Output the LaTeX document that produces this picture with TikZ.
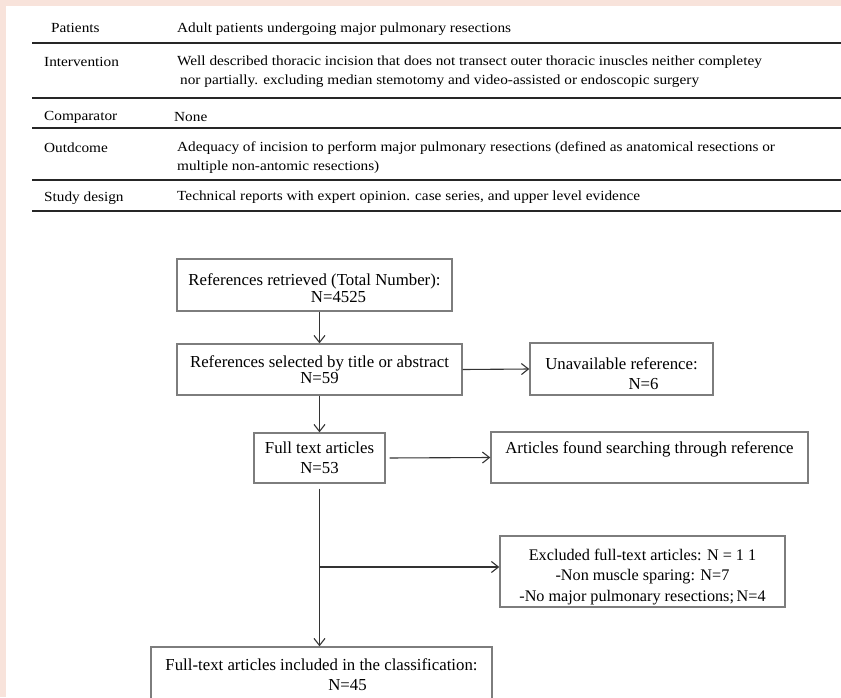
\documentclass[tikz,border=0pt]{standalone}
\usepackage{fontspec}
\setmainfont{Liberation Serif}
\newfontfamily\tabfont{Liberation Serif}[FakeStretch=1.1]
\usepackage{tikz}
\usetikzlibrary{positioning, arrows.meta}
\definecolor{pagepink}{RGB}{248,227,219}
\definecolor{boxline}{RGB}{125,125,125}

\begin{document}
\begin{tikzpicture}[x=1pt, y=-1pt,
    flowbox/.style={draw=boxline, line width=1.4pt, inner sep=0pt, align=center,
                    font=\fontsize{16.8}{19}\selectfont},
    tabcell/.style={anchor=west, inner sep=0pt, align=left,
                    font=\tabfont\fontsize{13.9}{19}\selectfont},
    tabrule/.style={line width=1.8pt, black!85},
    arr/.style={-{Straight Barb[length=7pt,width=11pt]}, line width=1.1pt, black!80}]
  \useasboundingbox (0,0) rectangle (841,697);
  \fill[pagepink] (0,0) rectangle (841,697);      % pink page
  \fill[white] (6,6) rectangle (841,697);         % white sheet

  % PICOS table
  \node[tabcell] (pat)  at (51,28)  {Patients};
  \node[tabcell] (patd) at (177,29) {Adult patients undergoing major pulmonary resections};
  \node[tabcell] (int)  at (44,62)  {Intervention};
  \node[tabcell] (intd) at (177,71.5) {Well described thoracic incision that does not transect outer thoracic inuscles neither completey\\
      \hspace*{3pt}nor partially. excluding median stemotomy and video-assisted or endoscopic surgery};
  \node[tabcell] (com)  at (44,117.5)  {Comparator};
  \node[tabcell] (comd) at (174,117.5) {None};
  \node[tabcell] (out)  at (44,148)  {Outdcome};
  \node[tabcell] (outd) at (177,157.5) {Adequacy of incision to perform major pulmonary resections (defined as anatomical resections or\\
      multiple non-antomic resections)};
  \node[tabcell] (des)  at (44,198)  {Study design};
  \node[tabcell] (desd) at (177,197.5) {Technical reports with expert opinion. case series, and upper level evidence};
  \foreach \y in {43,98,128,180,211}
    \draw[tabrule] (32,\y) -- (841,\y);           % row rules

  % flow chart
  \node[flowbox, minimum width=275, minimum height=52, font=\fontsize{16.8}{17}\selectfont]
      (ret) at (314.5,285) {\rule{0pt}{18.6pt}References retrieved (Total Number):\\\hspace*{48pt}N=4525};
  \node[flowbox, minimum width=285, minimum height=51, font=\fontsize{16.8}{16}\selectfont]
      (sel) at (319.5,369.5) {References selected by title or abstract\\N=59};
  \node[flowbox, minimum width=183, minimum height=52, font=\fontsize{16.8}{20}\selectfont]
      (unav) at (621.5,369) {\rule{0pt}{21pt}Unavailable reference:\\\hspace*{44pt}N=6};
  \node[flowbox, minimum width=131, minimum height=50, font=\fontsize{16.8}{20}\selectfont]
      (full) at (319.5,458) {Full text articles\\N=53};
  \node[flowbox, minimum width=317, minimum height=51]
      (found) at (649.5,457.5) {\rule{0pt}{17.6pt}Articles found searching through reference\\\strut};
  \node[flowbox, minimum width=285, minimum height=71, font=\fontsize{16.2}{20.5}\selectfont]
      (excl) at (642.5,571.5) {\rule{0pt}{21.5pt}Excluded full-text articles: N = 1 1\\-Non muscle sparing: N=7\\-No major pulmonary resections;\,N=4};
  \node[flowbox, minimum width=341, minimum height=56, font=\fontsize{16.8}{20}\selectfont]
      (incl) at (321.5,675) {Full-text articles included in the classification:\\\hspace*{52pt}N=45};

  \draw[arr] (ret.south -| sel.north) -- (sel.north);
  \draw[arr] (sel.east) -- (unav.west);
  \draw[arr] (sel.south) -- (full.north);
  \draw[arr, shorten <=4pt] (full.east) -- (found.west);
  \coordinate[yshift=4.5pt] (split) at (full.south |- excl.west);
  \draw[arr, shorten <=5pt] (full.south) -- (full.south |- incl.north);
  \draw[arr] (split) -- (split -| excl.west);
\end{tikzpicture}
\end{document}
